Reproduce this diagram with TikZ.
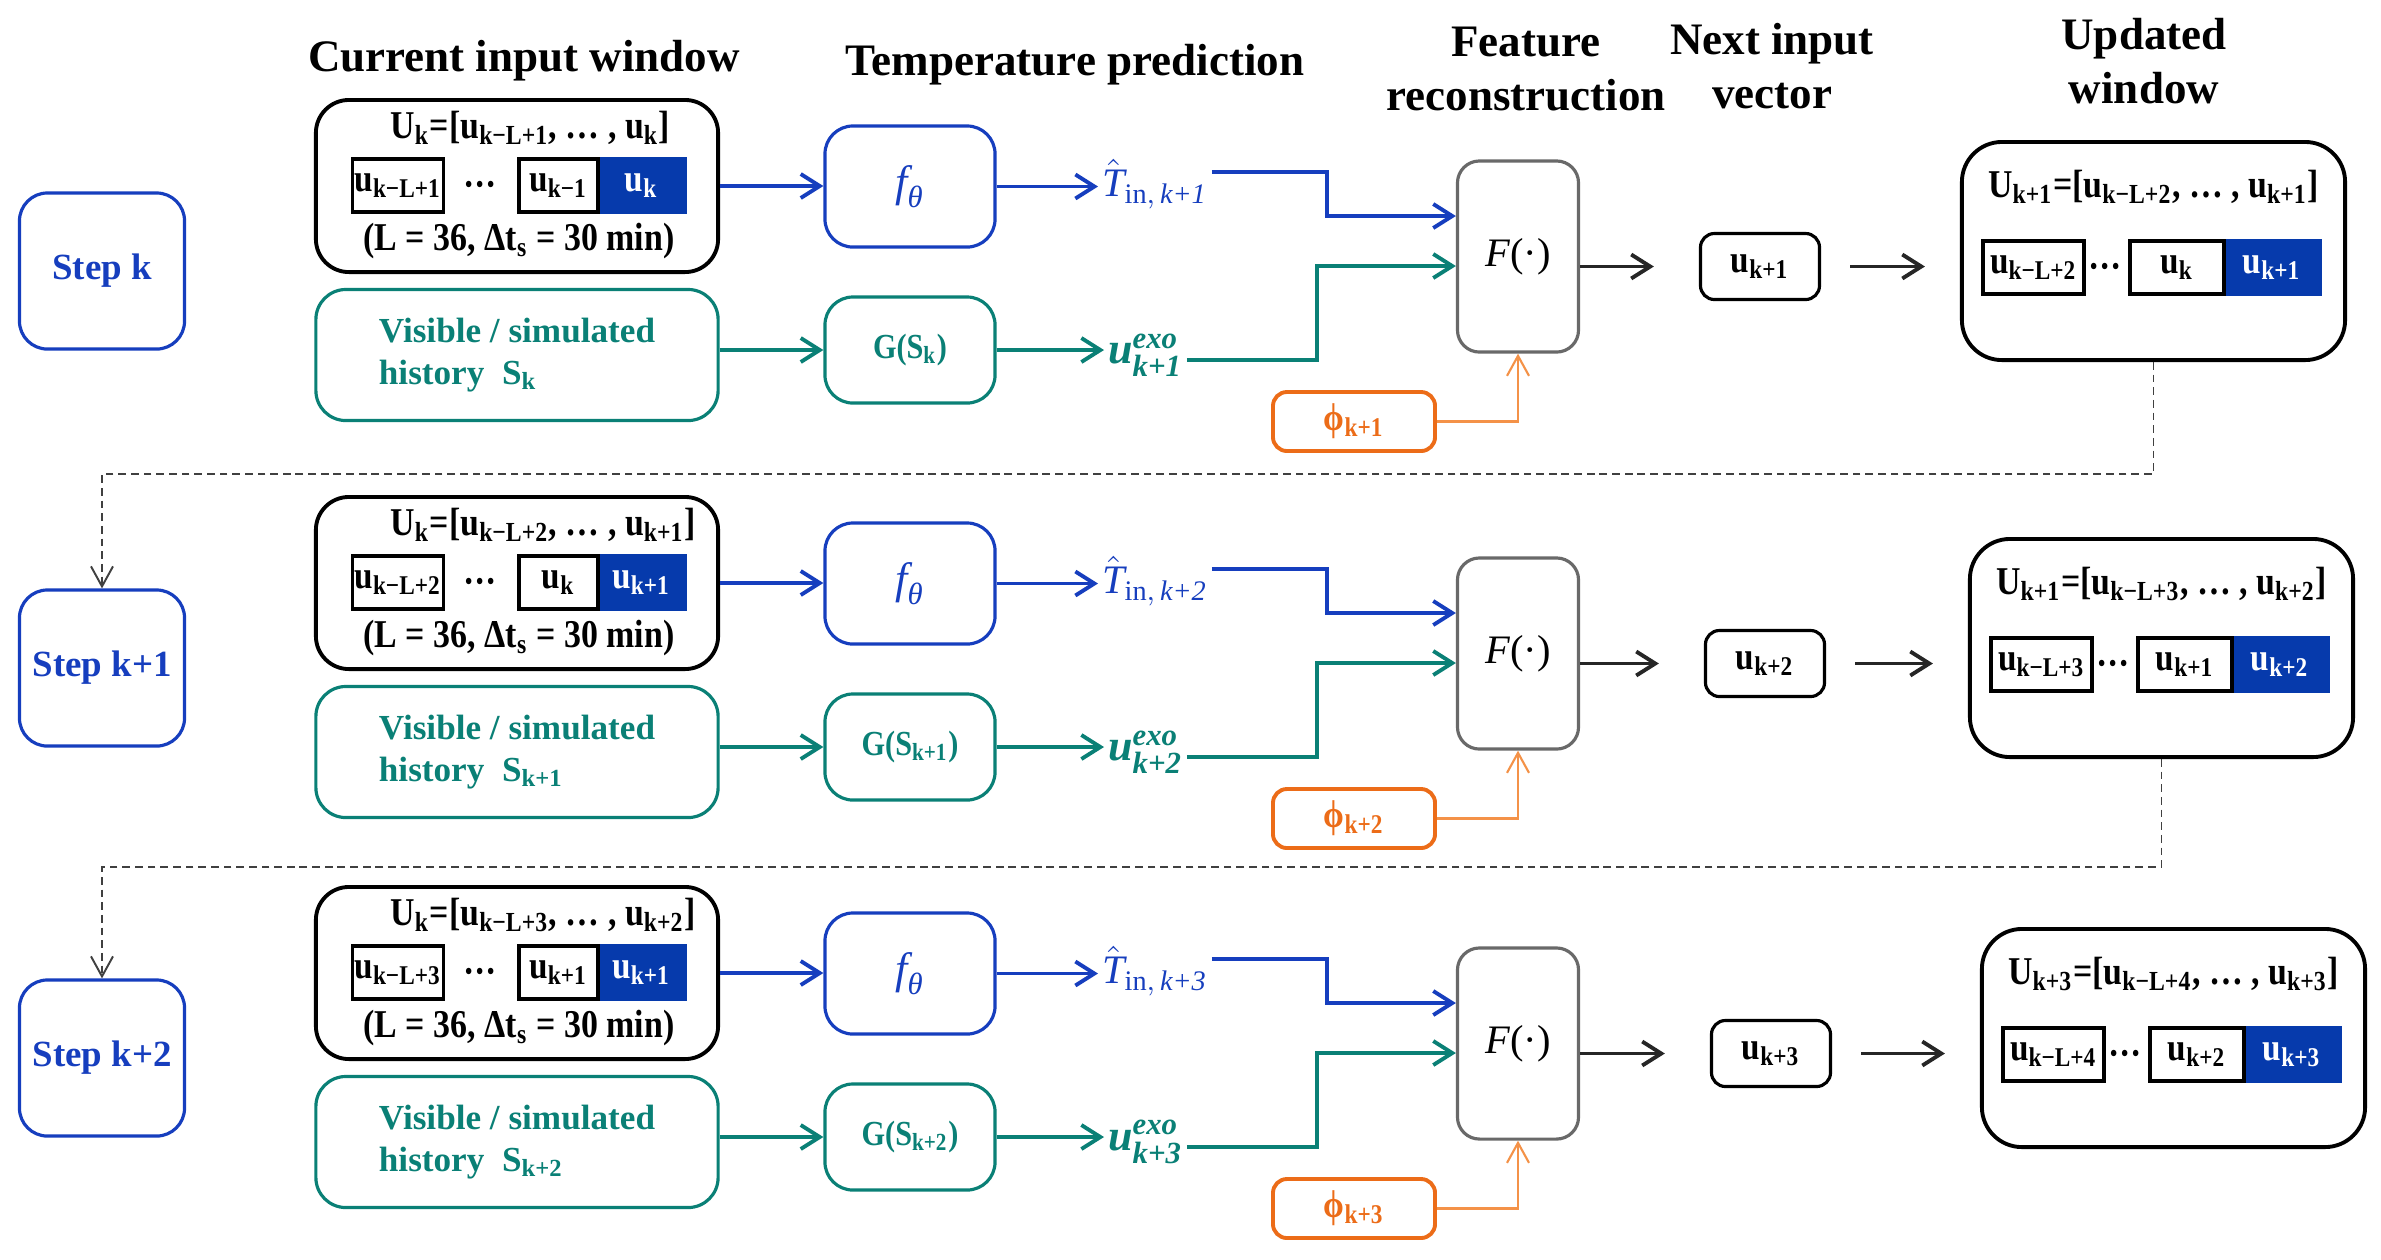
\documentclass[tikz,border=0pt]{standalone}
\usepackage{amsmath}
\usepackage{fontspec}
\setmainfont{Liberation Serif}
\newfontfamily\condfont{Liberation Serif}[FakeStretch=0.86]
\usetikzlibrary{arrows.meta}

\definecolor{stepblue}{RGB}{22,62,190}
\definecolor{cellblue}{RGB}{6,58,172}
\definecolor{histteal}{RGB}{10,128,118}
\definecolor{phiorange}{RGB}{236,108,24}
\definecolor{philine}{RGB}{244,146,72}
\definecolor{boxgray}{RGB}{105,105,105}

\newcommand{\ti}[1]{\text{\itshape #1}}
\newcommand{\sub}[1]{\textsubscript{#1}}

\tikzset{
  header/.style={font=\fontsize{12.8}{15.4}\bfseries, align=center},
  stepbox/.style={draw=stepblue, line width=0.9pt, rounded corners=0.28cm,
    minimum width=1.65cm, minimum height=1.56cm, text=stepblue,
    font=\fontsize{10.5}{12}\bfseries},
  winbox/.style={draw=black, line width=1.1pt, rounded corners=0.33cm,
    minimum width=4.02cm, minimum height=1.72cm},
  updbox/.style={winbox, rounded corners=0.4cm, minimum width=3.83cm, minimum height=2.18cm},
  histbox/.style={draw=histteal, line width=0.9pt, rounded corners=0.3cm,
    minimum width=4.02cm, minimum height=1.31cm, text=histteal, align=left,
    font=\fontsize{10}{12}\bfseries},
  predbox/.style={draw=stepblue, line width=0.9pt, rounded corners=0.28cm,
    minimum width=1.70cm, minimum height=1.21cm},
  exobox/.style={predbox, draw=histteal, minimum height=1.06cm, text=histteal,
    font=\condfont\fontsize{10}{12}\bfseries},
  featbox/.style={draw=boxgray, line width=0.9pt, rounded corners=0.22cm,
    minimum width=1.21cm, minimum height=1.91cm},
  vecbox/.style={draw=black, line width=0.9pt, rounded corners=0.14cm,
    minimum width=1.19cm, minimum height=0.66cm, font=\condfont\fontsize{11}{13}\bfseries},
  phibox/.style={draw=phiorange, line width=1.1pt, rounded corners=0.14cm,
    minimum width=1.62cm, minimum height=0.59cm, text=phiorange,
    font=\condfont\fontsize{11}{13}\bfseries},
  cell/.style={draw=black, line width=0.9pt, inner sep=0.5pt, minimum height=0.53cm,
    font=\condfont\fontsize{11}{13}\bfseries},
  lastcell/.style={cell, fill=cellblue, draw=cellblue, text=white},
  formula/.style={font=\condfont\fontsize{11.2}{13}\bfseries},
  flow/.style={line width=1.1pt, -{Straight Barb[length=1.9mm, width=2.4mm]}},
  phiflow/.style={line width=0.6pt, -{Straight Barb[length=2mm, width=2.2mm]}},
  loopback/.style={draw=black!75, line width=0.55pt, dash pattern=on 2.2pt off 1.4pt,
    -{Straight Barb[length=2mm, width=2.2mm]}}
}

\begin{document}
\begin{tikzpicture}[x=0.01cm, y=-0.01cm]
  \fill[white] (0,0) rectangle (2381,1259);
  \useasboundingbox (0,0) rectangle (2381,1259);

  % column titles
  \node[header] (hcur) at (524, 61) {Current input window};
  \node[header] (htemp) at (1075, 65) {Temperature prediction};
  \node[header] (hfeat) at (1526, 69) {Feature\\reconstruction};
  \node[header] (hnext) at (1772, 66) {Next input\\vector};
  \node[header] (hupd) at (2144, 61) {Updated\\window};

  \foreach \row/\dy/\kk/\kn/\lfa/\lfb/\kc/\kb/\ku/\wx/\ux in {
      1/0/k/k+1/k−L+1/k−L+2/k−1/k/k+1/2153.5/1760,
      2/397/k+1/k+2/k−L+2/k−L+3/k/k+1/k+1/2161.5/1765,
      3/787/k+2/k+3/k−L+3/k−L+4/k+1/k+1/k+3/2173.5/1771} {
    \node[stepbox] (step\row) at (102, 271+\dy) {Step \kk};

    % current window
    \node[winbox] (win\row) at (517, 186+\dy) {};
    \node[formula, anchor=west] (wf\row) at (378, 128+\dy) {U\sub{k}=[u\sub{\lfa}, … , u\sub{\kk}]};
    \node[lastcell, minimum width=0.87cm] (wc\row) at (641.5, 185.5+\dy) {u\sub{\kb}};
    \node[cell, minimum width=0.79cm] (wb\row) at (558.5, 185.5+\dy) {u\sub{\kc}};
    \node[cell, minimum width=0.88cm] (wa\row) at (398, 185.5+\dy) {u\sub{\lfa}};
    \node[formula] (wd\row) at (480, 189+\dy) {···};
    \node[formula] (wl\row) at (519, 241+\dy) {(L = 36, Δt\sub{s} = 30 min)};
    \node[histbox] (hist\row) at (517, 355+\dy) {Visible / simulated\\history\enspace S\sub{\kk}};

    % prediction
    \node[predbox, text=stepblue, font=\fontsize{12.5}{14}\selectfont] (f\row) at (910, 186.5+\dy) {$\ti{f}_{\ti{θ}}$};
    \node[exobox] (g\row) at (910, 350+\dy) {G(S\sub{\kk})};
    \node[anchor=west, inner sep=1pt, text=stepblue, font=\fontsize{11.5}{13}\selectfont] (that\row) at (1098, 184+\dy) {$\hat{\ti{T}}_{\text{in},\,\ti{\kn}}$};
    \node[anchor=west, inner sep=1pt, text=histteal, font=\fontsize{12.5}{14}\bfseries] (uexo\row) at (1104, 355+\dy) {$\ti{u}^{\ti{exo}}_{\ti{\kn}}$};

    % reconstruction
    \node[featbox, font=\fontsize{11.5}{13}\selectfont] (F\row) at (1518, 256.5+\dy) {\itshape F\upshape(·)};
    \node[phibox] (phi\row) at (1354, 421.5+\dy) {ϕ\sub{\kn}};
    \node[vecbox] (u\row) at (\ux, 266.5+\dy) {u\sub{\kn}};

    % updated window
    \node[updbox] (upd\row) at (\wx, 251+\dy) {};
    \node[formula] (uf\row) at (\wx, 187+\dy) {U\sub{\ku}=[u\sub{\lfb}, … , u\sub{\kn}]};
    \node[lastcell, minimum width=0.96cm] (uc\row) at (\wx+118.5, 267.5+\dy) {u\sub{\kn}};
    \node[cell, minimum width=0.94cm] (ub\row) at (\wx+23.5, 267.5+\dy) {u\sub{\kk}};
    \node[cell, minimum width=1.01cm] (ua\row) at (\wx-120, 267.5+\dy) {u\sub{\lfb}};
    \node[formula] (ud\row) at (\wx-48.5, 271+\dy) {···};

    \coordinate (tb\row) at (1327, 216+\dy);
    \coordinate (eb\row) at (1317, 266+\dy);

    \draw[flow, stepblue] (win\row.east) -- (win\row.east -| f\row.west);
    \draw[flow, histteal] (hist\row.east |- g\row) -- (g\row.west);
    \draw[flow, stepblue] (f\row.east) -- (f\row.east -| that\row.west);
    \draw[flow, histteal] (g\row.east) -- (g\row.east -| uexo\row.west);
    \draw[flow, stepblue] ([yshift=0.12cm]that\row.east) -| (tb\row) -- (tb\row -| F\row.west);
    \draw[flow, histteal] ([yshift=-0.05cm]uexo\row.east) -| (eb\row) -- (eb\row -| F\row.west);
    \draw[phiflow, philine] (phi\row) -| (F\row.south);
    \draw[flow, black!85, shorten >=4.5mm] (F\row.east |- u\row) -- (u\row);
    \draw[flow, black!85, shorten <=2.9mm, shorten >=3.5mm] (u\row) -- (u\row -| upd\row.west);
  }

  % back to the next step
  \foreach \a/\b/\my in {1/2/474, 2/3/867} {
    \coordinate (dm\a) at (1200, \my);
    \draw[loopback] (upd\a.south) |- (dm\a) -| (step\b.north);
  }
\end{tikzpicture}
\end{document}
